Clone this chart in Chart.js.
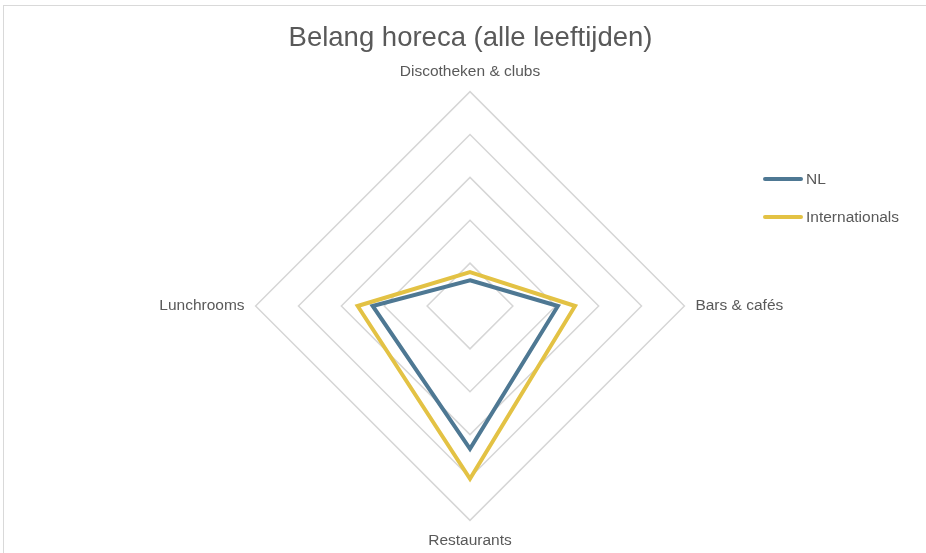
<!DOCTYPE html>
<html>
<head>
<meta charset="utf-8">
<title>Belang horeca</title>
<script src="https://cdn.jsdelivr.net/npm/chart.js@4/dist/chart.umd.min.js"></script>
<style>
  html, body { margin: 0; padding: 0; background: #fff; }
  #wrap { position: relative; width: 926px; height: 553px; overflow: hidden; }
  #frame { position: absolute; left: 3px; top: 5px; width: 1000px; height: 600px;
           border-left: 1px solid #d9d9d9; border-top: 1px solid #d9d9d9; }
  #chart { position: absolute; left: 0; top: 0; }
  #legend { position: absolute; left: 763px; top: 168px; font: 15.5px "Liberation Sans", Arial, sans-serif; color: #595959; }
  .lg { display: flex; align-items: center; height: 22px; margin-bottom: 16px; }
  .lg i { display: block; width: 40px; height: 4px; border-radius: 2px; margin-right: 3px; }
</style>
</head>
<body>
<div id="wrap">
  <div id="frame"></div>
  <canvas id="chart" width="926" height="553"></canvas>
  <div id="legend"></div>
</div>
<script>
// categorieën in volgorde vanaf boven, met de klok mee
const categories = ['Discotheken & clubs', 'Bars & cafés', 'Restaurants', 'Lunchrooms'];
const seriesNames = ['NL', 'Internationals'];
const nlValues = [0.60, 2.05, 3.33, 2.27];
const intlValues = [0.79, 2.45, 4.03, 2.62];
const seriesColors = ['#4e7893', '#e3c244'];

const FONT = '"Liberation Sans", Arial, sans-serif';
const GREY = '#595959';

new Chart(document.getElementById('chart'), {
  type: 'radar',
  data: {
    labels: categories,
    datasets: [nlValues, intlValues].map((vals, i) => ({
      label: seriesNames[i],
      data: vals,
      borderColor: seriesColors[i],
      backgroundColor: 'transparent',
      borderWidth: 4,
      fill: false,
      pointRadius: 0,
      pointHoverRadius: 0,
      tension: 0,
    })),
  },
  options: {
    responsive: false,
    devicePixelRatio: 1,
    animation: false,
    layout: { padding: { left: 15, right: 0, top: 0, bottom: 2 } },
    plugins: {
      legend: { display: false },
      tooltip: { enabled: false },
      title: {
        display: true,
        text: 'Belang horeca (alle leeftijden)',
        color: GREY,
        font: { family: FONT, size: 27.5, weight: 'normal' },
        padding: { top: 22, bottom: 7 },
      },
    },
    scales: {
      r: {
        min: 0, max: 5,
        ticks: { display: false, stepSize: 1 },
        grid: { color: '#d6d6d6', lineWidth: 1.5 },
        angleLines: { display: false },
        pointLabels: { color: GREY, padding: 11, font: { family: FONT, size: 15.5 } },
      },
    },
  },
});

// legenda rechts
document.getElementById('legend').innerHTML = seriesNames.map((n, i) =>
  `<div class="lg"><i style="background:${seriesColors[i]}"></i><span>${n}</span></div>`
).join('');
</script>
</body>
</html>
